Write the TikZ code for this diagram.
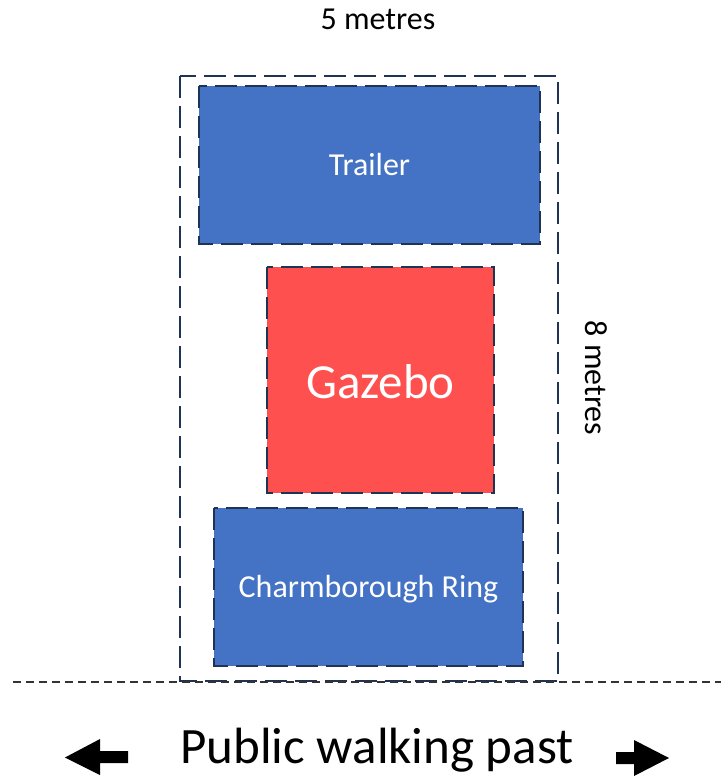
\documentclass[tikz,border=0pt]{standalone}
\usepackage{fontspec}
\setmainfont{Carlito}
\definecolor{navy}{HTML}{1F3354}
\definecolor{boxblue}{HTML}{4472C4}
\definecolor{boxred}{HTML}{FF5050}
\tikzset{
  dbox/.style={draw=navy, line width=2.7pt, dash pattern=on 22pt off 8pt},
  bluebox/.style={dbox, fill=boxblue},
  redbox/.style={dbox, fill=boxred},
  lbl/.style={text=white, font=\fontsize{32}{38}\selectfont},
  gazlbl/.style={font=\fontsize{49}{58}\selectfont},
  publbl/.style={font=\fontsize{51}{60}\selectfont, inner sep=0pt, anchor=base},
}
\begin{document}
\begin{tikzpicture}[x=1pt,y=-1pt]
\useasboundingbox (0,0) rectangle (721,777);
% outer area
\draw[dbox] (180,76) rectangle (558,681);
% boxes
\draw[bluebox] (199,86) rectangle (540,244);
\node[lbl] (trailer) at (369.5,165) {Trailer};
\draw[redbox] (267,267) rectangle (494,493);
\node[lbl, gazlbl] (gazebo) at (380.5,382) {Gazebo};
\draw[bluebox] (214,508) rectangle (523,666);
\node[lbl] (ring) at (368.5,589) {Charmborough Ring};
% labels
\node[font=\fontsize{32}{38}\selectfont] (five) at (378,19) {5 metres};
\node[font=\fontsize{32}{38}\selectfont, rotate=-90] (eight) at (596,378) {8 metres};
% road line
\coordinate (la) at (13,682);
\coordinate (lb) at (721,682);
\draw[line width=1.2pt, color=black!80, dash pattern=on 8pt off 5pt] (la) -- (lb);
% public walking
\node[publbl] (pub) at (377,763) {Public walking past};
% arrows
\fill[black] (65,757.5) -- (100,739) -- (100,751) -- (128,751) -- (128,763) -- (100,763) -- (100,775) -- cycle;
\fill[black] (669,758) -- (634,740) -- (634,752) -- (616,752) -- (616,764) -- (634,764) -- (634,776) -- cycle;
\end{tikzpicture}
\end{document}
